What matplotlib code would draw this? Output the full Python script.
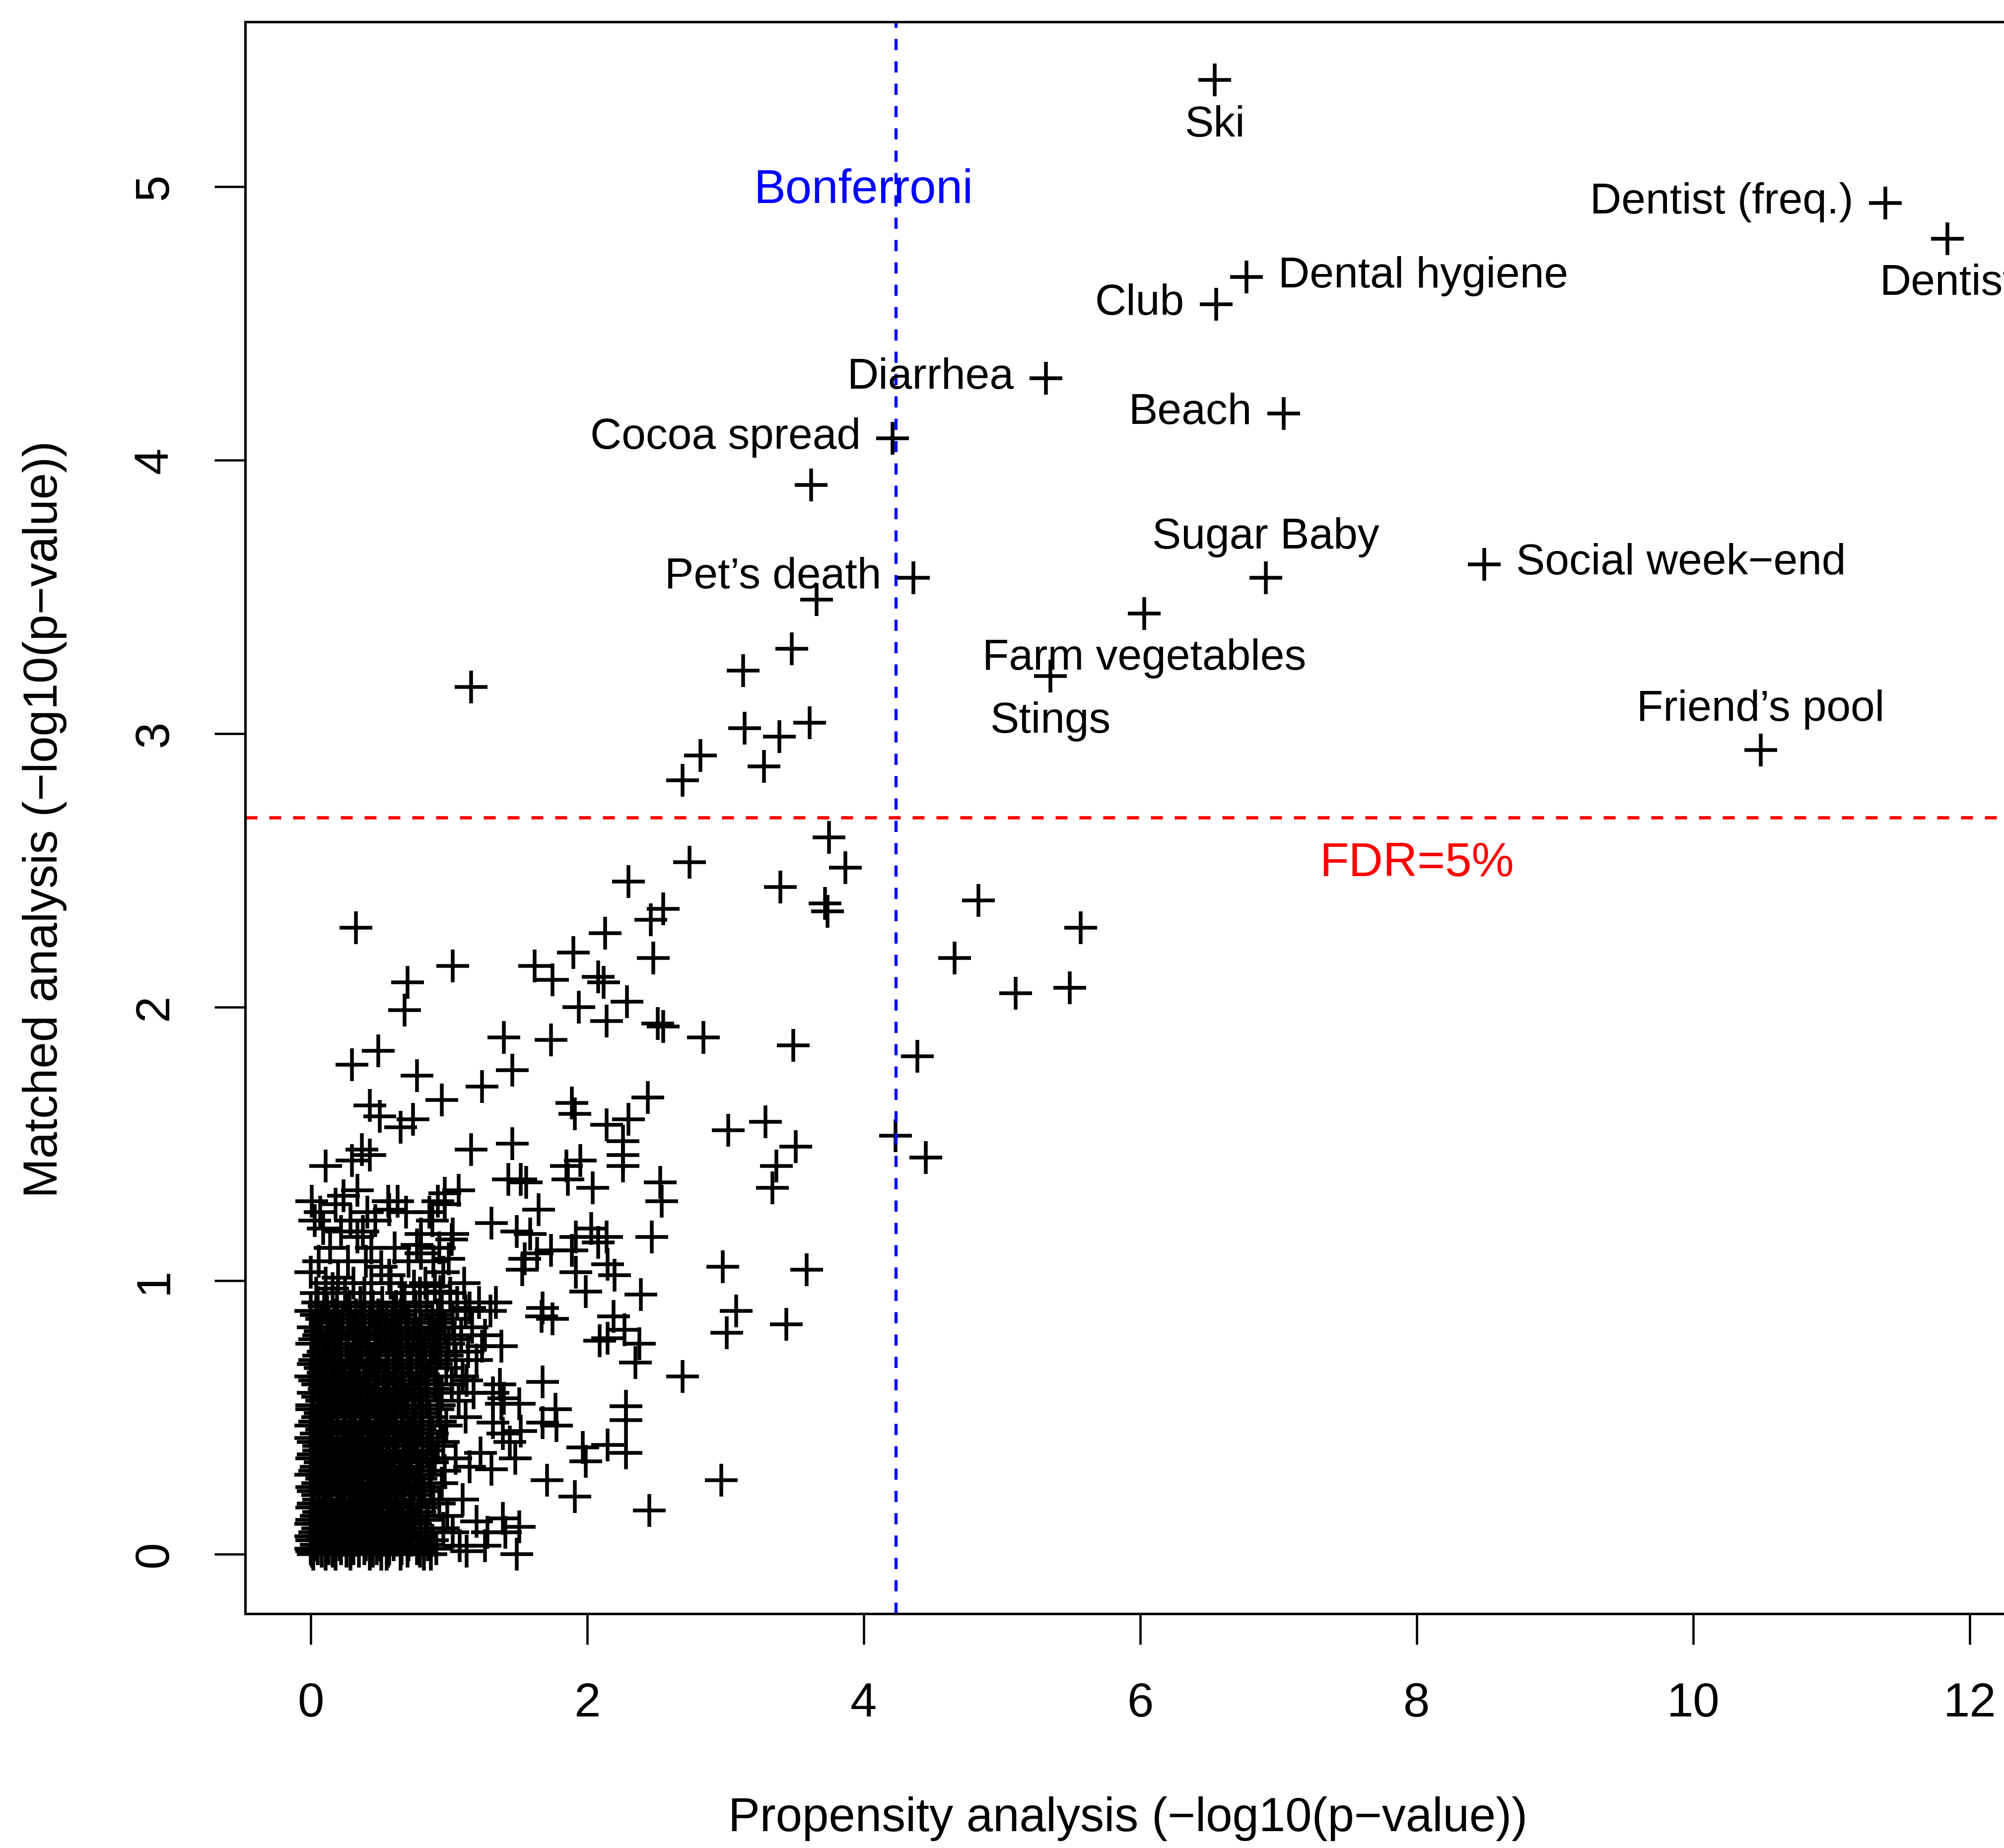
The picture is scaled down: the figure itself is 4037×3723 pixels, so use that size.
import matplotlib
matplotlib.use('Agg')
import matplotlib.pyplot as plt

plt.rcParams['font.family'] = ['Liberation Sans', 'DejaVu Sans']

# labelled exposures
label_names = ['Ski', 'Dentist (freq.)', 'Dentist', 'Dental hygiene', 'Club', 'Diarrhea',
               'Beach', 'Cocoa spread', 'Pet’s death', 'Sugar Baby', 'Social week−end',
               'Farm vegetables', 'Stings', 'Friend’s pool']
label_x = [6.54, 11.39, 11.84, 6.77, 6.55, 5.32, 7.04, 4.21, 4.36, 6.91, 8.49, 6.03, 5.35, 10.49]
label_y = [5.39, 4.94, 4.81, 4.67, 4.57, 4.30, 4.17, 4.08, 3.57, 3.57, 3.62, 3.44, 3.21, 2.94]
label_pos = ['below', 'left', 'below', 'right', 'left', 'left', 'left', 'left', 'left',
             'above', 'right', 'below', 'below', 'above']

other_x = [1.16, 3.62, 3.66, 3.48, 3.13, 3.14, 3.39, 3.61, 2.82, 2.69, 3.28,
           3.75, 3.87, 3.72, 3.74, 2.74, 2.30, 3.40, 2.55, 2.46, 2.13, 1.90, 2.48, 1.75,
           2.08, 2.12, 2.29, 1.94, 2.14, 2.51, 2.55, 2.84, 1.74, 3.49, 2.44, 1.89, 1.62,
           4.83, 5.57, 4.66, 5.10, 5.49, 4.39, 4.23, 4.45,
           0.33, 1.03, 0.70, 0.68, 1.40, 0.49, 0.30, 0.77, 1.46, 1.24, 0.95,
           0.43, 0.50, 0.74, 0.65, 1.16, 1.46, 0.11, 0.30, 0.37, 0.43, 1.43, 1.52, 1.56,
           0.01, 0.18, 0.24, 0.34, 0.56, 0.63, 0.57, 1.07, 0.97, 0.92, 0.97, 1.31, 1.49,
           1.59, 0.09, 0.22, 0.38, 0.34, 0.80, 0.77, 0.80, 1.03, 1.02, 1.00, 0.96, 1.55,
           1.53, 0.00, 0.20, 0.16, 0.51, 0.57, 0.75, 0.90, 0.94, 1.15, 1.34, 1.24, 1.38,
           1.91, 2.14, 2.30, 2.26, 2.26, 2.26, 3.02, 3.29, 3.37, 3.34, 3.51, 1.95, 1.85,
           1.86, 2.04, 2.53, 2.54, 1.65, 2.47, 2.03, 1.92, 2.14, 2.08, 1.89, 1.74, 1.64,
           1.92, 2.15, 2.20, 1.99, 2.39, 2.98, 3.08, 3.01, 3.44, 3.59, 1.68, 1.67, 1.75,
           2.19, 2.27, 2.15, 2.09, 2.38, 2.35,
           2.69, 1.68, 1.77, 1.68, 1.78, 2.28, 2.28, 2.28, 2.15, 1.97, 1.99, 1.71, 1.91,
           2.45, 2.97, 1.52,
           1.48, 1.31, 1.51, 1.49, 1.39, 1.28, 1.20, 1.13, 1.08, 1.37, 1.32, 1.40, 1.38,
           1.51, 1.32, 1.39, 1.44, 1.23, 1.15, 1.41, 1.26]
other_y = [3.17, 3.91, 3.49, 3.31, 3.23, 3.02, 2.99, 3.04, 2.92, 2.83, 2.88,
           2.62, 2.51, 2.38, 2.35, 2.53, 2.46, 2.44, 2.36, 2.32, 2.27, 2.20, 2.18, 2.10,
           2.11, 2.09, 2.02, 2.00, 1.95, 1.94, 1.93, 1.89, 1.88, 1.86, 1.67, 1.65, 2.15,
           2.39, 2.29, 2.18, 2.05, 2.07, 1.82, 1.53, 1.45,
           2.29, 2.15, 2.09, 1.99, 1.89, 1.84, 1.79, 1.75, 1.77, 1.71, 1.66,
           1.64, 1.60, 1.59, 1.56, 1.48, 1.50, 1.42, 1.44, 1.48, 1.46, 1.37, 1.37, 1.36,
           1.29, 1.28, 1.31, 1.33, 1.29, 1.29, 1.26, 1.33, 1.32, 1.29, 1.28, 1.21, 1.18,
           1.17, 1.19, 1.18, 1.18, 1.16, 1.17, 1.13, 1.10, 1.17, 1.15, 1.08, 1.03, 1.08,
           1.04, 1.03, 1.01, 0.97, 1.05, 1.02, 0.98, 0.98, 0.96, 0.90, 0.92, 0.76, 0.76,
           1.61, 1.57, 1.59, 1.51, 1.46, 1.42, 1.55, 1.58, 1.42, 1.34, 1.49, 1.44, 1.42,
           1.37, 1.34, 1.36, 1.29, 1.26, 1.16, 1.19, 1.16, 1.16, 1.14, 1.11, 1.11, 1.10,
           1.03, 1.06, 1.02, 0.96, 0.95, 1.05, 0.89, 0.81, 0.84, 1.04, 0.90, 0.87, 0.86,
           0.87, 0.82, 0.79, 0.78, 0.77, 0.70,
           0.65, 0.63, 0.53, 0.48, 0.47, 0.54, 0.49, 0.37, 0.40, 0.39, 0.34, 0.27, 0.21,
           0.16, 0.27, 0.45,
           0.35, 0.31, 0.10, 0.00, 0.13, 0.08, 0.12, 0.01, 0.03, 0.62, 0.59, 0.57, 0.55,
           0.55, 0.48, 0.44, 0.41, 0.37, 0.32, 0.08, 0.03]

# dense block near the origin, one row of x values per y level
core_y = [0.92, 0.89, 0.86, 0.83, 0.80, 0.77, 0.74, 0.71, 0.68, 0.65, 0.62, 0.59, 0.56,
          0.53, 0.50, 0.47, 0.44, 0.41, 0.38, 0.35, 0.32, 0.29, 0.26, 0.23, 0.20, 0.17,
          0.14, 0.11, 0.08, 0.05, 0.02, 0.00]
core_x = [
    [0.05, 0.19, 0.36, 0.52, 0.68, 0.84, 1.06, 1.22],
    [0.00, 0.12, 0.27, 0.44, 0.60, 0.79, 0.95, 1.12, 1.30],
    [0.08, 0.23, 0.38, 0.55, 0.71, 0.88, 1.03],
    [0.02, 0.15, 0.31, 0.47, 0.63, 0.80, 0.97, 1.17],
    [0.06, 0.20, 0.35, 0.51, 0.58, 0.74, 0.91, 1.09, 1.26],
    [0.01, 0.13, 0.27, 0.42, 0.66, 0.83, 1.00],
    [0.09, 0.22, 0.37, 0.49, 0.61, 0.77, 0.94, 1.14],
    [0.03, 0.17, 0.30, 0.44, 0.56, 0.70, 0.87, 1.05, 1.20],
    [0.07, 0.20, 0.33, 0.47, 0.62, 0.80, 0.98],
    [0.00, 0.12, 0.25, 0.39, 0.53, 0.66, 0.85, 1.10],
    [0.05, 0.18, 0.30, 0.42, 0.57, 0.72, 0.90, 1.02],
    [0.02, 0.14, 0.26, 0.36, 0.49, 0.63, 0.78, 0.95, 1.18],
    [0.08, 0.21, 0.33, 0.45, 0.55, 0.69, 0.84, 1.07],
    [0.01, 0.11, 0.24, 0.37, 0.51, 0.60, 0.75, 0.92],
    [0.05, 0.16, 0.28, 0.40, 0.47, 0.58, 0.70, 0.86, 1.12],
    [0.00, 0.10, 0.20, 0.32, 0.43, 0.54, 0.66, 0.81, 0.98],
    [0.04, 0.14, 0.25, 0.36, 0.48, 0.60, 0.73, 0.88],
    [0.02, 0.09, 0.19, 0.29, 0.41, 0.52, 0.63, 0.77, 0.96],
    [0.06, 0.16, 0.26, 0.35, 0.46, 0.57, 0.68, 0.84],
    [0.01, 0.11, 0.21, 0.31, 0.40, 0.50, 0.61, 0.72, 0.90, 1.05],
    [0.04, 0.14, 0.24, 0.34, 0.44, 0.55, 0.65, 0.79],
    [0.00, 0.08, 0.18, 0.28, 0.38, 0.48, 0.59, 0.70, 0.86],
    [0.05, 0.13, 0.23, 0.33, 0.42, 0.53, 0.63, 0.75, 0.95],
    [0.02, 0.10, 0.20, 0.29, 0.37, 0.47, 0.57, 0.68, 0.82],
    [0.06, 0.15, 0.25, 0.34, 0.43, 0.52, 0.62, 0.73, 0.89, 1.10],
    [0.01, 0.09, 0.19, 0.28, 0.39, 0.49, 0.58, 0.67, 0.80],
    [0.04, 0.13, 0.22, 0.31, 0.41, 0.50, 0.60, 0.71, 0.85, 0.99],
    [0.00, 0.07, 0.17, 0.26, 0.36, 0.45, 0.55, 0.64, 0.76],
    [0.03, 0.12, 0.21, 0.30, 0.40, 0.49, 0.59, 0.69, 0.83, 1.03],
    [0.01, 0.08, 0.16, 0.25, 0.34, 0.44, 0.53, 0.62, 0.73, 0.88],
    [0.00, 0.05, 0.13, 0.22, 0.31, 0.39, 0.48, 0.57, 0.66, 0.77, 0.91],
    [0.02, 0.11, 0.18, 0.29, 0.43, 0.51, 0.55, 0.65, 0.82, 0.87],
]

# second, staggered layer of the same block (fills the solid core)
core2_y = [1.25, 1.22, 1.12, 1.07, 0.99, 0.955, 0.905, 0.875, 0.845, 0.815, 0.785, 0.755,
           0.725, 0.695, 0.665, 0.635, 0.605, 0.575, 0.545, 0.515, 0.485, 0.455, 0.425,
           0.395, 0.365, 0.335, 0.305, 0.275, 0.245, 0.215, 0.185, 0.155, 0.125, 0.095,
           0.065, 0.035, 0.01]
core2_x = [
    [0.07, 0.41, 0.69, 0.86],
    [0.03, 0.29, 0.47, 0.88],
    [0.14, 0.44, 0.61, 0.93],
    [0.06, 0.27, 0.40, 0.71, 0.89],
    [0.11, 0.31, 0.44, 0.58, 0.83, 1.11],
    [0.04, 0.25, 0.39, 0.66, 0.79, 1.01],
    [0.10, 0.28, 0.45, 0.62, 0.76],
    [0.04, 0.17, 0.33, 0.49, 0.65, 0.92],
    [0.13, 0.29, 0.43, 0.59, 0.76, 0.94],
    [0.07, 0.22, 0.39, 0.54, 0.69, 0.86],
    [0.03, 0.17, 0.32, 0.47, 0.61, 0.78, 1.04],
    [0.11, 0.26, 0.41, 0.55, 0.71, 0.89],
    [0.06, 0.21, 0.35, 0.50, 0.64, 0.81, 0.99],
    [0.02, 0.15, 0.28, 0.42, 0.56, 0.73, 0.91],
    [0.09, 0.22, 0.34, 0.48, 0.60, 0.77],
    [0.03, 0.16, 0.29, 0.41, 0.54, 0.67, 0.83, 1.13],
    [0.10, 0.23, 0.35, 0.47, 0.61, 0.75, 0.92],
    [0.05, 0.17, 0.29, 0.41, 0.53, 0.66, 0.80],
    [0.01, 0.12, 0.24, 0.37, 0.49, 0.62, 0.74, 0.93],
    [0.07, 0.19, 0.30, 0.42, 0.55, 0.67, 0.81],
    [0.03, 0.13, 0.25, 0.36, 0.50, 0.62, 0.76, 0.94],
    [0.08, 0.19, 0.31, 0.42, 0.54, 0.67, 0.79],
    [0.00, 0.12, 0.23, 0.33, 0.45, 0.57, 0.70, 0.86],
    [0.06, 0.15, 0.26, 0.38, 0.49, 0.60, 0.74, 0.92],
    [0.02, 0.12, 0.22, 0.33, 0.44, 0.55, 0.67, 0.81],
    [0.07, 0.17, 0.28, 0.39, 0.50, 0.61, 0.73, 0.88],
    [0.03, 0.12, 0.22, 0.32, 0.43, 0.53, 0.64, 0.77, 0.97],
    [0.08, 0.16, 0.26, 0.36, 0.46, 0.56, 0.67, 0.80],
    [0.01, 0.11, 0.20, 0.31, 0.41, 0.50, 0.61, 0.72, 0.87],
    [0.05, 0.14, 0.24, 0.35, 0.45, 0.55, 0.66, 0.78],
    [0.02, 0.11, 0.21, 0.30, 0.41, 0.51, 0.62, 0.74, 0.93],
    [0.06, 0.15, 0.25, 0.35, 0.45, 0.56, 0.67, 0.79],
    [0.01, 0.10, 0.19, 0.29, 0.38, 0.48, 0.59, 0.70, 0.84],
    [0.05, 0.14, 0.24, 0.33, 0.43, 0.52, 0.63, 0.74, 0.96],
    [0.00, 0.09, 0.18, 0.28, 0.37, 0.47, 0.57, 0.68, 0.80],
    [0.04, 0.12, 0.21, 0.30, 0.40, 0.50, 0.60, 0.71, 0.85],
    [0.01, 0.08, 0.16, 0.26, 0.35, 0.45, 0.56, 0.70, 0.79],
]

bonferroni = 4.235
fdr = 2.694

xs = list(label_x) + other_x
ys = list(label_y) + other_y
for yv, row in zip(core_y + core2_y, core_x + core2_x):
    xs += row
    ys += [yv] * len(row)

W, H = 4037, 3723
fig = plt.figure(figsize=(W / 300, H / 300), dpi=300)
xmin, xmax = -0.4725, 12.30
ax = fig.add_axes([494 / W, 1 - 3251 / H, (xmax - xmin) * 278.5 / W, (3251 - 44) / H])

ax.plot(xs, ys, linestyle='none', marker='+', ms=16, mew=1.8, color='black')
ax.axvline(bonferroni, color='blue', lw=1.5, linestyle=(0, (3.6, 3.6)))
ax.axhline(fdr, color='red', lw=1.6, linestyle=(0, (3.6, 3.6)))

ax.text(4.0, 4.94, 'Bonferroni', color='blue', fontsize=23, ha='center', va='baseline')
ax.text(8.0, 2.48, 'FDR=5%', color='red', fontsize=23, ha='center', va='baseline')

offsets = {'below': ((0, -27.2), 'center'), 'above': ((0, 14.2), 'center'),
           'left': ((-15.4, -5), 'right'), 'right': ((15.4, -5), 'left')}
for name, x, y, pos in zip(label_names, label_x, label_y, label_pos):
    off, ha = offsets[pos]
    ax.annotate(name, (x, y), xytext=off, textcoords='offset points',
                ha=ha, va='baseline', fontsize=21, annotation_clip=False)

ax.set_xlim(xmin, xmax)
ax.set_ylim(-0.218, 5.603)
ax.set_xticks([0, 2, 4, 6, 8, 10, 12])
ax.set_yticks([0, 1, 2, 3, 4, 5])
ax.tick_params(direction='out', length=14.9, width=1.1, pad=18, labelsize=23)
ax.tick_params(axis='y', labelrotation=90)
for lab in ax.get_yticklabels():
    lab.set_va('center')
for sp in ax.spines.values():
    sp.set_linewidth(1.2)

fig.text(2272 / W, 1 - 3664 / H, 'Propensity analysis (−log10(p−value))',
         fontsize=23, ha='center', va='center')
fig.text(90 / W, 1 - 1650 / H, 'Matched analysis (−log10(p−value))',
         fontsize=23, ha='center', va='center', rotation=90)

fig.savefig('out.png', dpi=300)
